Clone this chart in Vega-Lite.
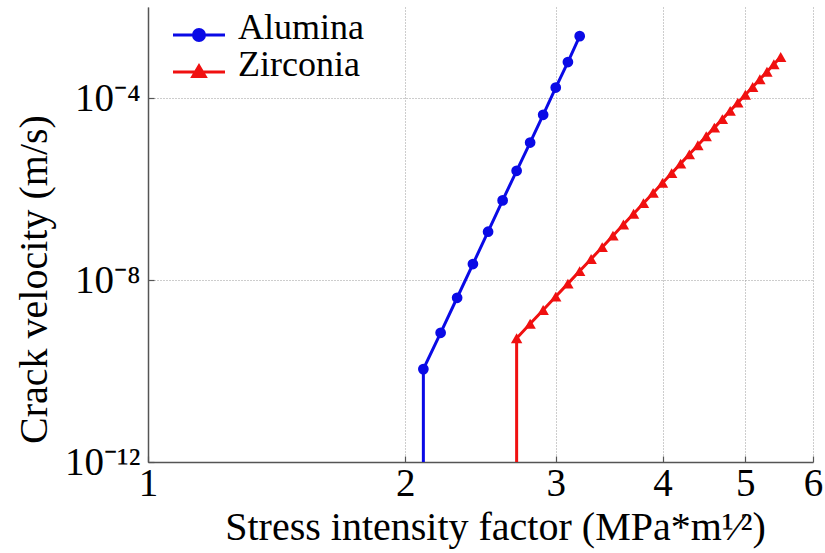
{
  "$schema": "https://vega.github.io/schema/vega-lite/v6.json",
  "width": 665,
  "height": 455,
  "autosize": {"type": "none"},
  "padding": {"left": 148, "top": 7, "right": 12, "bottom": 91},
  "background": "white",
  "config": {
    "font": "Liberation Serif",
    "view": {"stroke": null},
    "axis": {
      "domainColor": "#555555",
      "domainWidth": 1.5,
      "tickColor": "#555555",
      "tickWidth": 1.2,
      "tickSize": -6,
      "gridColor": "#9a9a9a",
      "gridDash": [1, 2],
      "gridWidth": 1,
      "labelColor": "black",
      "titleColor": "black",
      "labelFont": "Liberation Serif",
      "titleFont": "Liberation Serif",
      "titleFontWeight": "normal",
      "labelFontSize": 39,
      "titleFontSize": 40
    }
  },
  "data": {
    "values": [
      {"material": "Alumina", "K": 2.1, "v": 1e-12},
      {"material": "Alumina", "K": 2.1, "v": 1.10e-10},
      {"material": "Alumina", "K": 2.2, "v": 6.92e-10},
      {"material": "Alumina", "K": 2.3, "v": 4.07e-9},
      {"material": "Alumina", "K": 2.4, "v": 2.24e-8},
      {"material": "Alumina", "K": 2.5, "v": 1.15e-7},
      {"material": "Alumina", "K": 2.6, "v": 5.62e-7},
      {"material": "Alumina", "K": 2.7, "v": 2.51e-6},
      {"material": "Alumina", "K": 2.8, "v": 1.05e-5},
      {"material": "Alumina", "K": 2.9, "v": 4.27e-5},
      {"material": "Alumina", "K": 3.0, "v": 1.70e-4},
      {"material": "Alumina", "K": 3.1, "v": 6.17e-4},
      {"material": "Alumina", "K": 3.2, "v": 2.29e-3},
      {"material": "Zirconia", "K": 2.7, "v": 1e-12},
      {"material": "Zirconia", "K": 2.7, "v": 5.25e-10},
      {"material": "Zirconia", "K": 2.8, "v": 1.09e-9},
      {"material": "Zirconia", "K": 2.9, "v": 2.19e-9},
      {"material": "Zirconia", "K": 3.0, "v": 4.32e-9},
      {"material": "Zirconia", "K": 3.1, "v": 8.32e-9},
      {"material": "Zirconia", "K": 3.2, "v": 1.57e-8},
      {"material": "Zirconia", "K": 3.3, "v": 2.90e-8},
      {"material": "Zirconia", "K": 3.4, "v": 5.27e-8},
      {"material": "Zirconia", "K": 3.5, "v": 9.42e-8},
      {"material": "Zirconia", "K": 3.6, "v": 1.66e-7},
      {"material": "Zirconia", "K": 3.7, "v": 2.86e-7},
      {"material": "Zirconia", "K": 3.8, "v": 4.88e-7},
      {"material": "Zirconia", "K": 3.9, "v": 8.20e-7},
      {"material": "Zirconia", "K": 4.0, "v": 1.36e-6},
      {"material": "Zirconia", "K": 4.1, "v": 2.23e-6},
      {"material": "Zirconia", "K": 4.2, "v": 3.61e-6},
      {"material": "Zirconia", "K": 4.3, "v": 5.78e-6},
      {"material": "Zirconia", "K": 4.4, "v": 9.16e-6},
      {"material": "Zirconia", "K": 4.5, "v": 1.44e-5},
      {"material": "Zirconia", "K": 4.6, "v": 2.23e-5},
      {"material": "Zirconia", "K": 4.7, "v": 3.43e-5},
      {"material": "Zirconia", "K": 4.8, "v": 5.22e-5},
      {"material": "Zirconia", "K": 4.9, "v": 7.89e-5},
      {"material": "Zirconia", "K": 5.0, "v": 1.18e-4},
      {"material": "Zirconia", "K": 5.1, "v": 1.75e-4},
      {"material": "Zirconia", "K": 5.2, "v": 2.59e-4},
      {"material": "Zirconia", "K": 5.3, "v": 3.78e-4},
      {"material": "Zirconia", "K": 5.4, "v": 5.51e-4},
      {"material": "Zirconia", "K": 5.5, "v": 7.94e-4}
    ]
  },
  "encoding": {
    "x": {
      "field": "K",
      "type": "quantitative",
      "scale": {"type": "log", "domain": [1, 6], "nice": false},
      "axis": {
        "values": [1, 2, 3, 4, 5, 6],
        "format": "d",
        "labelPadding": 8,
        "labelFlush": false,
        "title": "Stress intensity factor (MPa*m¹⁄²)",
        "titleX": 347,
        "titleAlign": "center",
        "titlePadding": 4
      }
    },
    "y": {
      "field": "v",
      "type": "quantitative",
      "scale": {"type": "log", "domain": [1e-12, 0.01], "nice": false},
      "axis": {
        "values": [1e-12, 1e-8, 1e-4],
        "labelExpr": "'10' + (round(log(datum.value) / LN10) == -12 ? '⁻¹²' : round(log(datum.value) / LN10) == -8 ? '⁻⁸' : '⁻⁴')",
        "labelPadding": 14,
        "labelFlush": false,
        "title": "Crack velocity (m/s)",
        "titleX": -114,
        "titleY": 272,
        "titleAngle": -90,
        "titleAlign": "center",
        "titleBaseline": "middle"
      }
    },
    "color": {
      "field": "material",
      "type": "nominal",
      "scale": {"domain": ["Alumina", "Zirconia"], "range": ["#0a0ae6", "#f01010"]},
      "legend": {
        "title": null,
        "orient": "none",
        "legendX": 33,
        "legendY": 10,
        "padding": 0,
        "rowPadding": 0,
        "symbolSize": 400,
        "labelFont": "Liberation Serif",
        "labelFontSize": 36,
        "labelColor": "black",
        "labelOffset": 21,
        "labelBaseline": "alphabetic",
        "encode": {
          "labels": {"update": {"dy": {"value": 4}}},
          "symbols": {
            "update": {
              "shape": {"signal": "datum.value === 'Alumina' ? 'M-2.6,0L2.6,0M0.55,0A0.55,0.55,0,1,1,-0.55,0A0.55,0.55,0,1,1,0.55,0Z' : 'M-2.6,0L2.6,0M0,-0.6L0.62,0.45L-0.62,0.45Z'"},
              "fill": {"signal": "datum.value === 'Alumina' ? '#0a0ae6' : '#f01010'"},
              "stroke": {"signal": "datum.value === 'Alumina' ? '#0a0ae6' : '#f01010'"},
              "strokeWidth": {"value": 3},
              "opacity": {"value": 1}
            }
          }
        }
      }
    }
  },
  "layer": [
    {
      "mark": {"type": "line", "strokeWidth": 3},
      "encoding": {"order": {"field": "v", "type": "quantitative"}}
    },
    {
      "transform": [{"filter": "datum.v > 1e-12 && datum.material === 'Alumina'"}],
      "mark": {"type": "point", "shape": "circle", "filled": true, "opacity": 1, "size": 115}
    },
    {
      "transform": [{"filter": "datum.v > 1e-12 && datum.material === 'Zirconia'"}],
      "mark": {"type": "point", "shape": "triangle-up", "filled": true, "opacity": 1, "size": 130}
    }
  ]
}
